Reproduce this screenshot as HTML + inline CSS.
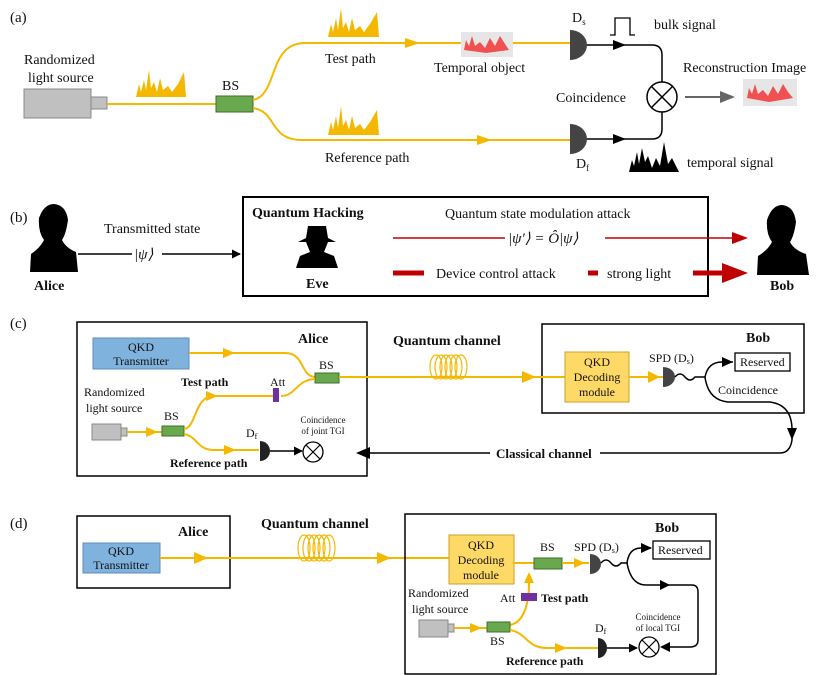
<!DOCTYPE html>
<html><head><meta charset="utf-8"><style>
body{margin:0;background:#fff}
svg{display:block}
text{font-family:"Liberation Serif",serif;font-size:13px;fill:#111}
.b{font-weight:bold}
.y{stroke:#f5b800;stroke-width:2;fill:none}
.k{stroke:#000;stroke-width:1.5;fill:none}
</style></head><body>
<svg width="831" height="675" viewBox="0 0 831 675" xmlns="http://www.w3.org/2000/svg">
<defs>
<marker id="ak" viewBox="0 0 10 10" refX="9" refY="5" markerWidth="6" markerHeight="6" orient="auto"><path d="M0,0L10,5L0,10z" fill="#000"/></marker>
</defs>
<!-- (a) -->
<text x="10" y="22" style="font-size:15px">(a)</text>
<text x="24" y="64" style="font-size:14px">Randomized</text>
<text x="28" y="82" style="font-size:14px">light source</text>
<rect x="24" y="89" width="67" height="29" fill="#c0c0c0" stroke="#888"/>
<rect x="91" y="97" width="16" height="12" fill="#c0c0c0" stroke="#888"/>
<line x1="107" y1="104" x2="216" y2="104" class="y"/>
<rect x="216" y="96" width="37" height="16" fill="#6aa84f" stroke="#3d6e2a"/>
<text x="222" y="90" style="font-size:14px">BS</text>
<path d="M253,100 C278,95 268,45 303,43 L570,43" class="y"/>
<path d="M253,108 C278,112 268,140 303,140 L570,140" class="y"/>
<path d="M405,38L420,43L405,48z" fill="#f5b800"/>
<path d="M477,135L492,140L477,145z" fill="#f5b800"/>
<path d="M136,97L139,84L141,92L144,80L146,90L149,70L151,88L154,82L157,92L160,78L163,90L168,86L172,92L178,84L184,72L186,97z" fill="#f5b800"/>
<path d="M328,37L331,24L333,32L336,18L338,30L341,8L343,28L346,22L349,32L352,18L355,30L360,26L364,32L370,24L377,12L379,37z" fill="#f5b800"/>
<path d="M328,135L331,122L333,130L336,116L338,128L341,106L343,126L346,120L349,130L352,116L355,128L360,124L364,130L370,122L377,110L379,135z" fill="#f5b800"/>
<text x="325" y="63" style="font-size:14px">Test path</text>
<text x="325" y="162" style="font-size:14px">Reference path</text>
<rect x="461" y="32" width="52" height="25" fill="#e6e6e6"/>
<path d="M464,50L466,40L469,46L472,36L475,46L480,42L485,48L490,38L495,46L500,36L505,44L509,50L486,53z" fill="#f05050"/>
<text x="434" y="72" style="font-size:14px">Temporal object</text>
<path d="M570,30 A17,15 0 0 1 570,60z" fill="#444"/>
<path d="M570,124 A17,15 0 0 1 570,154z" fill="#444"/>
<text x="572" y="22" style="font-size:14px">D<tspan style="font-size:9px" dy="3">s</tspan></text>
<text x="576" y="168" style="font-size:14px">D<tspan style="font-size:9px" dy="3">f</tspan></text>
<path d="M587,45 L652,45 Q662,45 662,55 L662,82" class="k"/>
<path d="M587,139 L652,139 Q662,139 662,129 L662,112" class="k"/>
<path d="M613,40L626,45L613,50z"/><path d="M613,134L626,139L613,144z"/>
<path d="M610,35L615,35L615,18L630,18L630,35L635,35" stroke="#000" fill="none" stroke-width="1.3"/>
<text x="654" y="29" style="font-size:14px">bulk signal</text>
<circle cx="662" cy="97" r="15" fill="#fff" stroke="#000" stroke-width="1.5"/>
<path d="M651,86L673,108M673,86L651,108" stroke="#000" stroke-width="1.5"/>
<text x="556" y="102" style="font-size:14px">Coincidence</text>
<line x1="685" y1="97" x2="722" y2="97" stroke="#666" stroke-width="2"/>
<path d="M720,91L735,97L720,103z" fill="#666"/>
<text x="683" y="72" style="font-size:14px">Reconstruction Image</text>
<rect x="743" y="79" width="54" height="27" fill="#e6e6e6"/>
<path d="M747,98L749,88L752,94L755,84L758,94L763,90L768,96L773,86L778,94L783,84L788,92L793,98L769,102z" fill="#f05050"/>
<path d="M629,172L632,160L634,166L637,152L639,164L642,148L645,162L648,156L652,168L656,158L660,166L664,142L668,164L672,158L679,172z" fill="#000"/>
<text x="687" y="167" style="font-size:14px">temporal signal</text>
<!-- (b) -->
<text x="10" y="222" style="font-size:15px">(b)</text>
<path d="M30,272 L31,254 Q40,248 44,240 Q38,232 39,218 Q44,204 54,204 Q66,205 68,220 Q66,234 62,240 Q66,248 76,252 L78,272z" fill="#000"/>
<text x="34" y="290" class="b" style="font-size:14px">Alice</text>
<text x="104" y="233" style="font-size:14px">Transmitted state</text>
<line x1="78" y1="254" x2="240" y2="254" class="k" marker-end="url(#ak)"/>
<rect x="132" y="244" width="30" height="18" fill="#fff"/>
<text x="134" y="259" style="font-size:15px;font-style:italic">|ψ⟩</text>
<rect x="243" y="197" width="465" height="99" fill="none" stroke="#000" stroke-width="2"/>
<text x="252" y="217" class="b" style="font-size:14px">Quantum Hacking</text>
<path d="M296,268 L300,256 L310,252 L306,242 L298,242 L306,238 L308,226 L326,226 L328,238 L336,242 L328,242 L324,252 L334,256 L338,268z" fill="#000"/>
<text x="306" y="288" class="b" style="font-size:14px">Eve</text>
<text x="445" y="218" style="font-size:14px">Quantum state modulation attack</text>
<line x1="393" y1="238" x2="735" y2="238" stroke="#c00000" stroke-width="1.5"/>
<path d="M732,232L748,238L732,244z" fill="#c00000"/>
<rect x="505" y="228" width="100" height="18" fill="#fff"/>
<text x="508" y="243" style="font-size:15px;font-style:italic">|ψ′⟩ = Ô|ψ⟩</text>
<line x1="393" y1="273" x2="424" y2="273" stroke="#c00000" stroke-width="5"/>
<text x="436" y="278" style="font-size:14px">Device control attack</text>
<line x1="588" y1="273" x2="598" y2="273" stroke="#c00000" stroke-width="5"/>
<text x="607" y="278" style="font-size:14px">strong light</text>
<line x1="693" y1="273" x2="725" y2="273" stroke="#c00000" stroke-width="5"/>
<path d="M722,263L748,273L722,283z" fill="#c00000"/>
<path d="M757,275 L758,256 Q768,250 772,242 Q766,234 767,220 Q772,205 782,205 Q794,206 796,222 Q794,236 790,242 Q794,250 806,254 L809,275z" fill="#000"/>
<text x="770" y="290" class="b" style="font-size:14px">Bob</text>
<!-- (c) -->
<text x="10" y="328" style="font-size:15px">(c)</text>
<rect x="77" y="322" width="290" height="154" fill="none" stroke="#000" stroke-width="1.5"/>
<rect x="542" y="324" width="262" height="89" fill="none" stroke="#000" stroke-width="1.5"/>
<text x="746" y="342" class="b" style="font-size:14px">Bob</text>
<rect x="93" y="338" width="96" height="31" fill="#7fb2dd" stroke="#5b8fc0"/>
<text x="141" y="351" text-anchor="middle" style="font-size:12px">QKD</text>
<text x="141" y="365" text-anchor="middle" style="font-size:12px">Transmitter</text>
<text x="298" y="343" class="b" style="font-size:14px">Alice</text>
<path d="M189,353 L285,353 C305,353 300,376 315,377" class="y"/>
<path d="M223,348L235,353L223,358z" fill="#f5b800"/>
<rect x="315" y="373" width="24" height="10" fill="#6aa84f" stroke="#3d6e2a"/>
<text x="319" y="369" style="font-size:12px">BS</text>
<line x1="339" y1="377" x2="565" y2="377" class="y"/>
<path d="M522,371L536,377L522,383z" fill="#f5b800"/>
<text x="393" y="345" class="b" style="font-size:14px">Quantum channel</text>
<g stroke="#f5b800" fill="none" stroke-width="1.2"><ellipse cx="436" cy="367" rx="6" ry="12"/><ellipse cx="441" cy="367" rx="6" ry="12"/><ellipse cx="446" cy="367" rx="6" ry="12"/><ellipse cx="451" cy="367" rx="6" ry="12"/><ellipse cx="456" cy="367" rx="6" ry="12"/><ellipse cx="461" cy="367" rx="6" ry="12"/></g>
<rect x="565" y="352" width="64" height="50" fill="#ffd966" stroke="#c9a227"/>
<text x="597" y="366" text-anchor="middle" style="font-size:12px">QKD</text>
<text x="597" y="381" text-anchor="middle" style="font-size:12px">Decoding</text>
<text x="597" y="396" text-anchor="middle" style="font-size:12px">module</text>
<line x1="629" y1="377" x2="663" y2="377" class="y"/>
<path d="M648,371L660,377L648,383z" fill="#f5b800"/>
<path d="M663,367 A12,10 0 0 1 663,387z" fill="#444"/>
<text x="649" y="362" style="font-size:12px">SPD (D<tspan style="font-size:8px" dy="2">s</tspan><tspan dy="-2">)</tspan></text>
<path d="M675,377 q5,-6 10,0 q5,6 10,0 L705,377 Q708,362 722,362 L733,362" class="k" stroke-width="1"/>
<path d="M722,357L733,362L722,367z"/>
<rect x="735" y="353" width="55" height="18" fill="#fff" stroke="#000" stroke-width="1.3"/>
<text x="740" y="366" style="font-size:12px">Reserved</text>
<text x="718" y="394" style="font-size:12px">Coincidence</text>
<path d="M705,377 Q708,400 728,402 L770,402 Q792,405 792,430 L792,440 Q790,453 780,453 L370,453" class="k" stroke-width="1"/>
<path d="M787,428L792,440L797,428z"/>
<path d="M356,453L370,447L370,459z"/>
<rect x="490" y="445" width="110" height="16" fill="#fff"/>
<text x="496" y="458" class="b" style="font-size:13px">Classical channel</text>
<text x="84" y="396" style="font-size:12px">Randomized</text>
<text x="86" y="412" style="font-size:12px">light source</text>
<rect x="92" y="424" width="29" height="16" fill="#c0c0c0" stroke="#888"/>
<rect x="121" y="428" width="6" height="8" fill="#c0c0c0" stroke="#888"/>
<line x1="127" y1="432" x2="162" y2="432" class="y"/>
<path d="M146,427L158,432L146,437z" fill="#f5b800"/>
<rect x="162" y="426" width="22" height="10" fill="#6aa84f" stroke="#3d6e2a"/>
<text x="164" y="420" style="font-size:12px">BS</text>
<path d="M184,429 C197,427 194,396 214,396 L273,396 M281,396 C296,396 296,380 315,379" class="y"/>
<path d="M206,391L218,396L206,401z" fill="#f5b800"/>
<rect x="273" y="388" width="6" height="14" fill="#7030a0"/>
<text x="270" y="386" style="font-size:12px">Att</text>
<text x="181" y="386" class="b" style="font-size:12px">Test path</text>
<path d="M184,434 C197,436 197,450 214,450 L259,450" class="y"/>
<path d="M224,445L236,450L224,455z" fill="#f5b800"/>
<path d="M260,441 A10,10 0 0 1 260,461z" fill="#222"/>
<text x="246" y="437" style="font-size:12px">D<tspan style="font-size:8px" dy="2">f</tspan></text>
<line x1="270" y1="451" x2="302" y2="451" class="k" marker-end="url(#ak)"/>
<circle cx="313" cy="452" r="10" fill="#fff" stroke="#000" stroke-width="1.3"/>
<path d="M306,445L320,459M320,445L306,459" stroke="#000" stroke-width="1.2"/>
<text x="323" y="423" text-anchor="middle" style="font-size:9px">Coincidence</text>
<text x="323" y="434" text-anchor="middle" style="font-size:9px">of joint TGI</text>
<text x="170" y="467" class="b" style="font-size:12px">Reference path</text>
<!-- (d) -->
<text x="10" y="528" style="font-size:15px">(d)</text>
<rect x="77" y="516" width="153" height="72" fill="none" stroke="#000" stroke-width="1.5"/>
<rect x="83" y="543" width="77" height="30" fill="#7fb2dd" stroke="#5b8fc0"/>
<text x="121" y="555" text-anchor="middle" style="font-size:12px">QKD</text>
<text x="121" y="569" text-anchor="middle" style="font-size:12px">Transmitter</text>
<text x="178" y="536" class="b" style="font-size:14px">Alice</text>
<line x1="160" y1="558" x2="449" y2="558" class="y"/>
<path d="M194,552L208,558L194,564z" fill="#f5b800"/>
<path d="M377,552L391,558L377,564z" fill="#f5b800"/>
<text x="261" y="528" class="b" style="font-size:14px">Quantum channel</text>
<g stroke="#f5b800" fill="none" stroke-width="1.2"><ellipse cx="304" cy="548" rx="6" ry="13"/><ellipse cx="309" cy="548" rx="6" ry="13"/><ellipse cx="314" cy="548" rx="6" ry="13"/><ellipse cx="319" cy="548" rx="6" ry="13"/><ellipse cx="324" cy="548" rx="6" ry="13"/><ellipse cx="329" cy="548" rx="6" ry="13"/></g>
<rect x="405" y="514" width="311" height="160" fill="none" stroke="#000" stroke-width="1.5"/>
<text x="655" y="532" class="b" style="font-size:14px">Bob</text>
<rect x="449" y="535" width="65" height="49" fill="#ffd966" stroke="#c9a227"/>
<text x="481" y="549" text-anchor="middle" style="font-size:12px">QKD</text>
<text x="481" y="564" text-anchor="middle" style="font-size:12px">Decoding</text>
<text x="481" y="579" text-anchor="middle" style="font-size:12px">module</text>
<line x1="514" y1="563" x2="534" y2="563" class="y"/>
<rect x="534" y="558" width="28" height="11" fill="#6aa84f" stroke="#3d6e2a"/>
<text x="540" y="551" style="font-size:12px">BS</text>
<line x1="562" y1="563" x2="589" y2="563" class="y"/>
<path d="M574,558L585,563L574,568z" fill="#f5b800"/>
<path d="M590,554 A11,10 0 0 1 590,574z" fill="#444"/>
<text x="574" y="551" style="font-size:12px">SPD (D<tspan style="font-size:8px" dy="2">s</tspan><tspan dy="-2">)</tspan></text>
<path d="M601,563 q5,-6 10,0 q5,6 10,0 L627,563 Q629,548 641,548 L651,548" class="k" stroke-width="1"/>
<path d="M641,543L652,548L641,553z"/>
<rect x="653" y="541" width="57" height="18" fill="#fff" stroke="#000" stroke-width="1.3"/>
<text x="658" y="554" style="font-size:12px">Reserved</text>
<path d="M627,563 Q631,585 646,585 L692,585 Q698,585 698,592 L698,640 Q698,647 690,647 L662,647" class="k" stroke-width="1"/>
<path d="M660,580L670,585L660,590z"/>
<path d="M660,647L670,642L670,652z"/>
<path d="M510,625 C526,622 529,598 529,584 L529,575" class="y"/>
<path d="M524,583L529,572L534,583z" fill="#f5b800"/>
<rect x="521" y="593" width="16" height="8" fill="#7030a0"/>
<text x="500" y="602" style="font-size:12px">Att</text>
<text x="541" y="602" class="b" style="font-size:12px">Test path</text>
<text x="408" y="597" style="font-size:12px">Randomized</text>
<text x="412" y="613" style="font-size:12px">light source</text>
<rect x="419" y="620" width="29" height="17" fill="#c0c0c0" stroke="#888"/>
<rect x="448" y="624" width="6" height="8" fill="#c0c0c0" stroke="#888"/>
<line x1="454" y1="628" x2="487" y2="628" class="y"/>
<path d="M470,623L482,628L470,633z" fill="#f5b800"/>
<rect x="487" y="622" width="23" height="10" fill="#6aa84f" stroke="#3d6e2a"/>
<text x="490" y="645" style="font-size:12px">BS</text>
<path d="M510,630 C527,633 527,648 547,648 L598,648" class="y"/>
<path d="M555,643L567,648L555,653z" fill="#f5b800"/>
<path d="M598,638 A9,10 0 0 1 598,658z" fill="#222"/>
<text x="595" y="632" style="font-size:12px">D<tspan style="font-size:8px" dy="2">f</tspan></text>
<line x1="607" y1="648" x2="637" y2="648" class="k" marker-end="url(#ak)"/>
<circle cx="649" cy="647" r="10" fill="#fff" stroke="#000" stroke-width="1.3"/>
<path d="M642,640L656,654M656,640L642,654" stroke="#000" stroke-width="1.2"/>
<text x="658" y="620" text-anchor="middle" style="font-size:9px">Coincidence</text>
<text x="658" y="631" text-anchor="middle" style="font-size:9px">of local TGI</text>
<text x="506" y="665" class="b" style="font-size:12px">Reference path</text>
</svg>
</body></html>
